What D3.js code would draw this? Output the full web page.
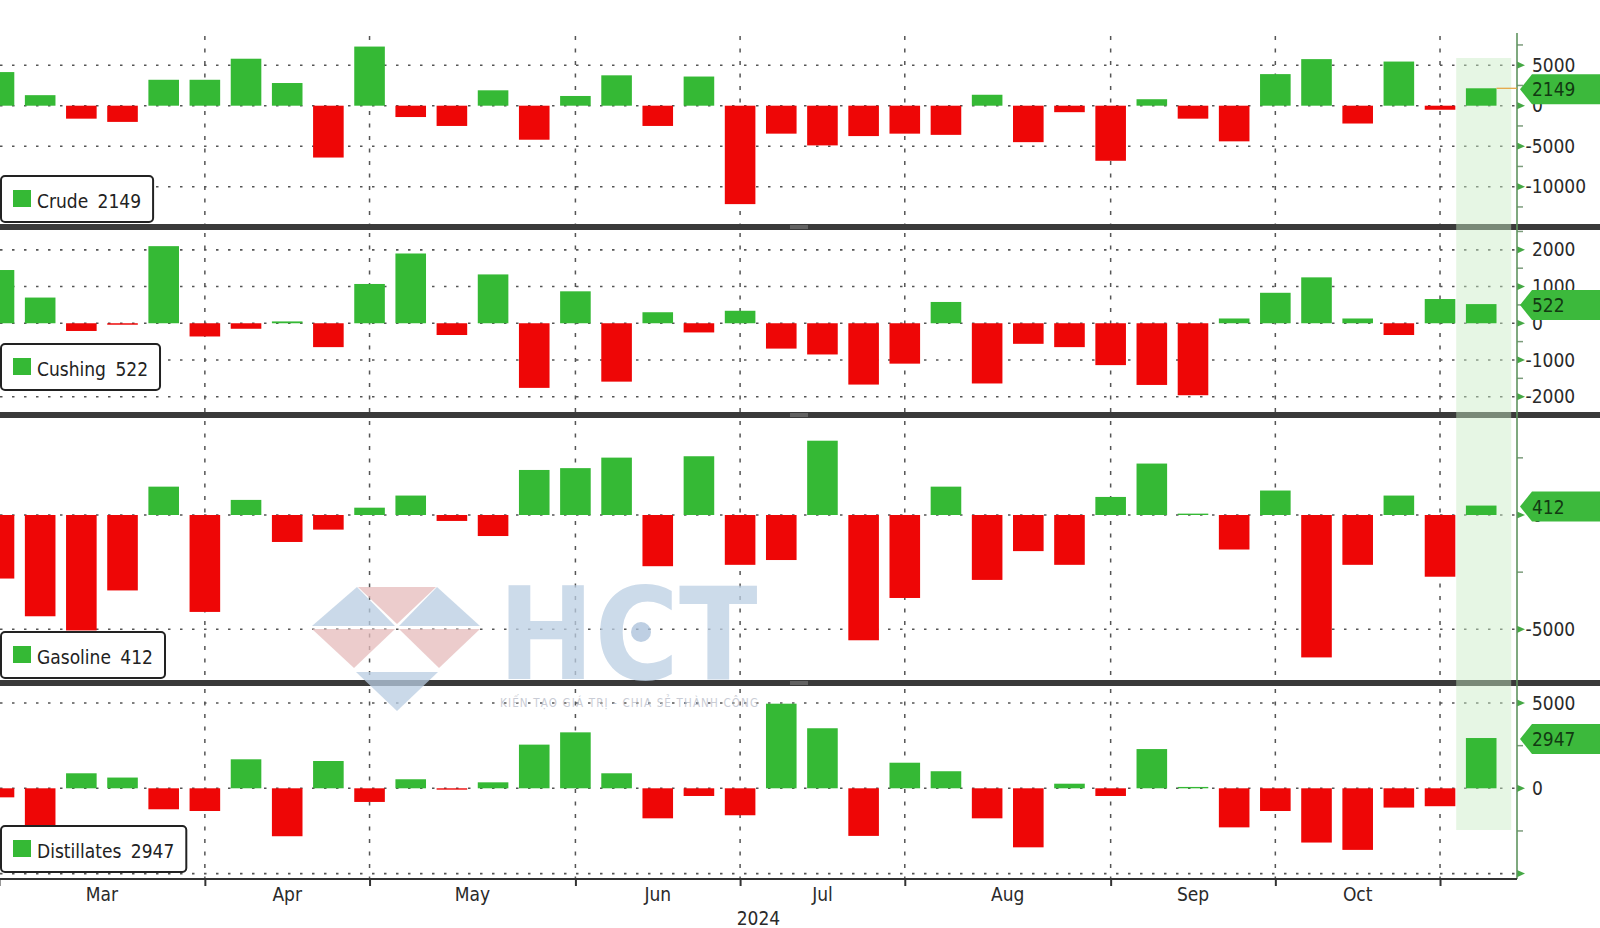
<!DOCTYPE html>
<html><head><meta charset="utf-8">
<script src="https://cdn.jsdelivr.net/npm/d3@7"></script>
<style>
html,body{margin:0;padding:0;background:#fff;}
svg{display:block;}
text{font-family:"DejaVu Sans Condensed","DejaVu Sans",sans-serif;}
</style></head><body>
<svg id="chart" width="1600" height="928"></svg>
<script>
// ---------- DATA ----------
const weeks = ["2024-03-01","2024-03-08","2024-03-15","2024-03-22","2024-03-29",
  "2024-04-05","2024-04-12","2024-04-19","2024-04-26",
  "2024-05-03","2024-05-10","2024-05-17","2024-05-24","2024-05-31",
  "2024-06-07","2024-06-14","2024-06-21","2024-06-28",
  "2024-07-05","2024-07-12","2024-07-19","2024-07-26",
  "2024-08-02","2024-08-09","2024-08-16","2024-08-23","2024-08-30",
  "2024-09-06","2024-09-13","2024-09-20","2024-09-27",
  "2024-10-04","2024-10-11","2024-10-18","2024-10-25",
  "2024-11-01","2024-11-08"];
const crude = [4150,1300,-1600,-2000,3200,3200,5800,2800,-6400,7300,-1400,-2500,1900,-4200,1200,3750,-2500,3600,-12150,-3450,
  -4900,-3750,-3450,-3600,1350,-4500,-800,-6800,800,-1600,-4400,3900,5750,-2200,5450,-500,2149];
const cushing = [1450,700,-210,-40,2100,-360,-150,50,-650,1070,1900,-320,1330,-1760,870,-1590,300,-250,340,-690,
  -850,-1670,-1100,580,-1640,-560,-650,-1140,-1680,-1960,130,830,1250,130,-320,660,522];
const gasoline = [-2780,-4430,-5050,-3300,1240,-4240,660,-1180,-640,320,850,-260,-920,1970,2050,2510,-2240,2570,-2180,-1970,
  3250,-5480,-3630,1240,-2840,-1580,-2180,790,2250,60,-1510,1070,-6230,-2180,850,-2700,412];
const distillates = [-530,-4100,880,630,-1230,-1330,1700,-2810,1600,-800,530,-80,350,2560,3280,880,-1760,-450,-1580,4960,
  3520,-2790,1500,1000,-1760,-3460,270,-450,2300,80,-2290,-1330,-3180,-3610,-1130,-1050,2947];
const seriesNames = ["Crude","Cushing","Gasoline","Distillates"];
const monthLabels = ["Mar","Apr","May","Jun","Jul","Aug","Sep","Oct"];
const yearLabel = "2024";
const crudeTicks = [5000,0,-5000,-10000];
const cushingTicks = [2000,1000,0,-1000,-2000];
const gasolineTicks = [0,-5000];
const distillatesTicks = [5000,0,-5000];
const distillatesLabelTicks = [5000,0];

// ---------- LAYOUT ----------
const W = 1600, H = 928;
const axisX = 1517;
const GREEN = "#35b935", RED = "#ee0606";
const svg = d3.select("#chart");
svg.append("rect").attr("width",W).attr("height",H).attr("fill","#fff");

const panels = [
  {name:seriesNames[0], values:crude, ticks:crudeTicks, labelTicks:crudeTicks, step:5000, top:33, bottom:224, domain:[-14605,8975], legendY:176, orange:true},
  {name:seriesNames[1], values:cushing, ticks:cushingTicks, labelTicks:cushingTicks, step:1000, top:230, bottom:412, domain:[-2417,2540], legendY:344},
  {name:seriesNames[2], values:gasoline, ticks:gasolineTicks, labelTicks:gasolineTicks, step:5000, top:418, bottom:680, domain:[-7218,4243], legendY:632},
  {name:seriesNames[3], values:distillates, ticks:distillatesTicks, labelTicks:distillatesLabelTicks, step:5000, top:686, bottom:879, domain:[-5317,5997], legendY:826}
];

const x = d3.scalePoint().domain(weeks).range([-1, 1481.2]);
const bw = x.step() * 0.743;

// month starts
const monthStarts = weeks.filter((d,i)=> i===0 || d.slice(5,7)!==weeks[i-1].slice(5,7));

const gGrid = svg.append("g");
const gSep = svg.append("g");
const gHi = svg.append("g");
const gBars = svg.append("g");
const gTicks = svg.append("g");
const gAxis = svg.append("g");
const gLeg = svg.append("g");
const gWm = svg.append("g");
const gTag = svg.append("g");

panels.forEach(p=>{
  p.y = d3.scaleLinear().domain(p.domain).range([p.bottom, p.top]);
  // horizontal dotted grid
  gGrid.selectAll(null).data(p.ticks).join("line")
    .attr("x1",0).attr("x2",axisX)
    .attr("y1",d=>p.y(d)).attr("y2",d=>p.y(d))
    .attr("stroke","#555").attr("stroke-width",1.6).attr("stroke-dasharray","2.5,9.5");
  // vertical dashed grid at month starts
  gGrid.selectAll(null).data(monthStarts).join("line")
    .attr("x1",d=>x(d)).attr("x2",d=>x(d))
    .attr("y1",p.top+3).attr("y2",p.bottom)
    .attr("stroke","#555").attr("stroke-width",1.5).attr("stroke-dasharray","4,8.5");
  // bars
  gBars.selectAll(null).data(p.values.map((v,i)=>({v, d:weeks[i]}))).join("rect")
    .attr("x",d=>x(d.d)-bw/2).attr("width",bw)
    .attr("y",d=>p.y(Math.max(0,d.v)))
    .attr("height",d=>Math.max(1.2, Math.abs(p.y(d.v)-p.y(0))))
    .attr("fill",d=>d.v>=0?GREEN:RED);

  // arrows at major ticks
  gTicks.selectAll(null).data(p.ticks).join("path")
    .attr("d",d=>`M${axisX},${p.y(d)-3.6}L${axisX+8},${p.y(d)}L${axisX},${p.y(d)+3.6}Z`)
    .attr("fill","#45a845");
  // minor ticks
  const minors = d3.range(Math.floor(p.domain[0]/p.step), Math.ceil(p.domain[1]/p.step)+1)
    .map(k=>(k+0.5)*p.step).filter(v=>v>p.domain[0]&&v<p.domain[1]);
  gTicks.selectAll(null).data(minors).join("line")
    .attr("x1",axisX).attr("x2",axisX+6).attr("y1",d=>p.y(d)).attr("y2",d=>p.y(d))
    .attr("stroke","#7c9c7c").attr("stroke-width",1.5);

  // right axis labels
  const ax = d3.axisRight(p.y).tickValues(p.labelTicks).tickSize(0).tickPadding(15)
    .tickFormat(d=>String(d));
  const ga = gAxis.append("g").attr("transform",`translate(${axisX},0)`).call(ax);
  ga.select(".domain").remove();
  ga.selectAll("text").attr("font-size",19).attr("fill","#2a2a2a")
    .attr("font-family",'"DejaVu Sans Condensed","DejaVu Sans",sans-serif')
    .attr("x",d=>d<0?8.5:15);

  // legend
  const lg = gLeg.append("g").attr("transform",`translate(1,${p.legendY})`);
  const box = lg.append("rect").attr("rx",4).attr("height",46).attr("fill","#fff")
    .attr("stroke","#222").attr("stroke-width",2);
  lg.append("rect").attr("x",12).attr("y",14).attr("width",18).attr("height",17).attr("fill",GREEN);
  const t = lg.append("text").attr("x",36).attr("y",31.5).attr("font-size",19).attr("fill","#222")
    .attr("word-spacing",4)
    .text(`${p.name} ${p.values[p.values.length-1]}`);
  const tl = t.node().getComputedTextLength();
  box.attr("width", tl + 36 + 12);

  // value tag
  const last = p.values[p.values.length-1];
  const vy = p.y(last);
  if(p.orange){
    gAxis.append("line").attr("x1",x(weeks[weeks.length-1])+bw/2).attr("x2",axisX)
      .attr("y1",vy).attr("y2",vy).attr("stroke","#e6a23c").attr("stroke-width",1.2);
  }
  gTag.append("path")
    .attr("d",`M${axisX+3},${vy+1}L${axisX+15},${vy-14}L${W},${vy-14}L${W},${vy+16}L${axisX+15},${vy+16}Z`)
    .attr("fill","#3cb93c");
  gTag.append("text").attr("x",axisX+15).attr("y",vy+8).attr("font-size",19).attr("fill","#123a12")
    .text(String(last));
});

// separators
panels.slice(0,3).forEach((p,i)=>{
  const nt = panels[i+1].top;
  gSep.append("rect").attr("x",0).attr("y",p.bottom).attr("width",W).attr("height",nt-p.bottom).attr("fill","#3a3a3a");
  gSep.append("line").attr("x1",790).attr("x2",808).attr("y1",p.bottom+2).attr("y2",p.bottom+2).attr("stroke","#8a8a8a").attr("stroke-width",1);
  gSep.append("line").attr("x1",790).attr("x2",808).attr("y1",p.bottom+4).attr("y2",p.bottom+4).attr("stroke","#8a8a8a").attr("stroke-width",1);
});

// highlight of latest week
const lx = x(weeks[weeks.length-1]);
gHi.append("rect").attr("x",lx-25).attr("y",58).attr("width",55).attr("height",772)
  .attr("fill","rgb(200,235,195)").attr("opacity",0.45);

// right axis line
gTicks.append("line").attr("x1",axisX).attr("x2",axisX).attr("y1",33).attr("y2",879)
  .attr("stroke","#5f945f").attr("stroke-width",1.6);

// bottom axis
const xb = d3.axisBottom(x).tickValues(monthStarts).tickFormat("").tickSize(7);
const gx = gAxis.append("g").attr("transform","translate(0,879)").call(xb);
gx.select(".domain").remove();
gx.selectAll("line").attr("stroke","#333").attr("stroke-width",2);
gAxis.append("line").attr("x1",0).attr("x2",axisX).attr("y1",879).attr("y2",879)
  .attr("stroke","#333").attr("stroke-width",2.2);
gAxis.selectAll(null).data(monthLabels).join("text")
  .attr("x",(d,i)=>(x(monthStarts[i])+x(monthStarts[i+1]))/2)
  .attr("y",901).attr("text-anchor","middle").attr("font-size",19).attr("fill","#2a2a2a")
  .text(d=>d);
gAxis.append("text").attr("x",axisX/2).attr("y",925).attr("text-anchor","middle")
  .attr("font-size",19).attr("fill","#2a2a2a").text(yearLabel);

// faint watermark
const wm = gWm.attr("opacity",0.75);
const blue = "#b9cde2", pink = "#e6bcbc";
[
  [[312,626],[357,587],[395,626],blue],
  [[358,587],[436,587],[397,624],pink],
  [[399,626],[437,587],[480,626],blue],
  [[312,629],[395,629],[354,668],pink],
  [[399,629],[480,629],[439,668],pink],
  [[356,672],[438,672],[397,711],blue]
].forEach(t=>{
  wm.append("path").attr("d",`M${t[0]}L${t[1]}L${t[2]}Z`).attr("fill",t[3]);
});
wm.append("text").attr("x",498).attr("y",679).attr("font-size",128).attr("font-weight","bold")
  .attr("font-family","'Liberation Sans',Arial,sans-serif").attr("fill","#bccfe3").text("HCT");
wm.append("circle").attr("cx",641).attr("cy",632).attr("r",10).attr("fill","#a9c0da");
wm.append("text").attr("x",500).attr("y",707).attr("font-size",11.5).attr("fill","#b8bcc8")
  .attr("textLength",258).text("KIẾN TẠO GIÁ TRỊ - CHIA SẺ THÀNH CÔNG");
</script>
</body></html>
